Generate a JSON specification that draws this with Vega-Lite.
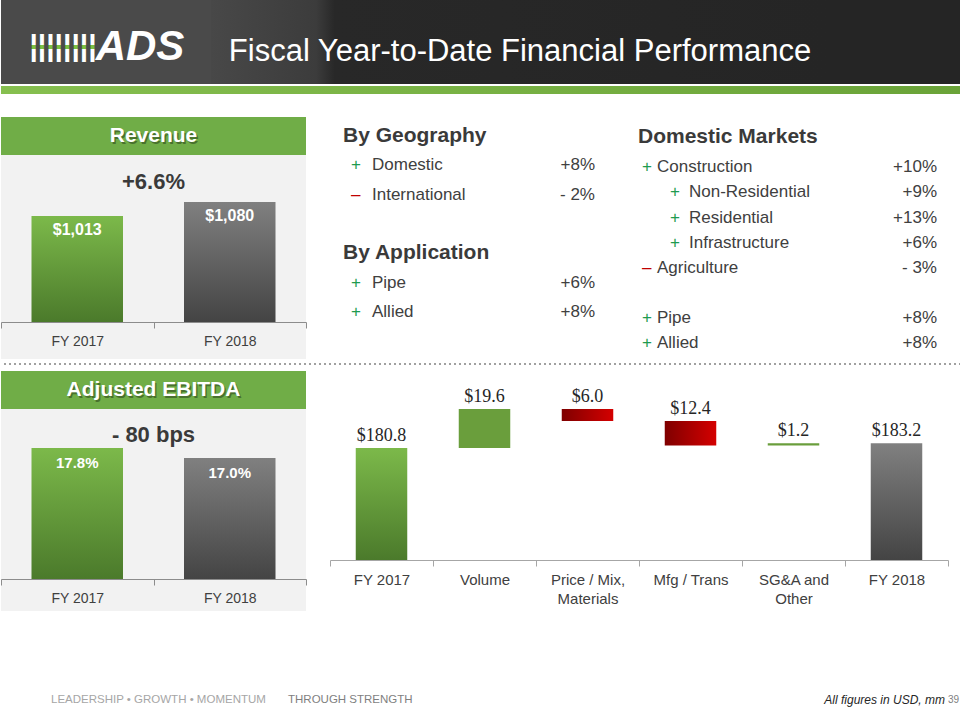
{
  "$schema": "https://vega.github.io/schema/vega-lite/v6.json",
  "padding": 0,
  "background": "white",
  "config": {"view": {"stroke": null}, "font": "Liberation Sans"},
  "spacing": 0,
  "vconcat": [
    {
      "spacing": 0,
      "hconcat": [
        {
          "width": 210, "height": 84,
          "view": {"fill": "#4a4a4a"},
          "data": {"values": [{"brand": "ADS", "stripes": "||||||||"}]},
          "layer": [
            {"mark": {"type": "text", "fontSize": 30, "fontWeight": "bold", "dx": -43, "dy": 5, "color": {"gradient": "linear", "x1": 0, "y1": 0, "x2": 0, "y2": 1, "stops": [{"offset": 0, "color": "#ffffff"}, {"offset": 0.48, "color": "#ffffff"}, {"offset": 0.48, "color": "#7cc142"}, {"offset": 0.62, "color": "#7cc142"}, {"offset": 0.62, "color": "#ffffff"}, {"offset": 1, "color": "#ffffff"}]}}, "encoding": {"text": {"field": "stripes"}}},
            {"mark": {"type": "text", "color": "white", "fontSize": 42, "fontWeight": "bold", "fontStyle": "italic", "dx": 34, "dy": 5}, "encoding": {"text": {"field": "brand"}}}
          ]
        },
        {
          "width": 618, "height": 84,
          "view": {"fill": {"gradient": "linear", "x1": 0, "y1": 0, "x2": 1, "y2": 0, "stops": [{"offset": 0, "color": "#484848"}, {"offset": 0.17, "color": "#3c3c3c"}, {"offset": 0.2, "color": "#282828"}, {"offset": 1, "color": "#252525"}]}},
          "data": {"values": [{"title": "Fiscal Year-to-Date Financial Performance"}]},
          "mark": {"type": "text", "color": "white", "fontSize": 31, "font": "Liberation Sans", "baseline": "alphabetic", "dy": 19},
          "encoding": {"text": {"field": "title"}}
        },
        {
          "width": 132, "height": 84,
          "view": {"fill": "#252525"},
          "data": {"values": [{"blank": ""}]},
          "mark": {"type": "text"},
          "encoding": {"text": {"field": "blank"}}
        }
      ]
    },
    {
      "spacing": 22,
      "vconcat": [
        {
          "width": 960, "height": 8,
          "view": {"fill": {"gradient": "linear", "x1": 0, "y1": 0, "x2": 1, "y2": 0, "stops": [{"offset": 0, "color": "#86bf4f"}, {"offset": 1, "color": "#6aa338"}]}},
          "data": {"values": [{"blank": ""}]},
          "mark": {"type": "text"},
          "encoding": {"text": {"field": "blank"}}
        },
        {
          "spacing": 82,
          "vconcat": [
            {
              "spacing": 4,
              "vconcat": [
                {
                  "spacing": 36,
                  "hconcat": [
                    {
                      "spacing": 0,
                      "vconcat": [
                        {
                          "width": 305, "height": 38,
                          "view": {"fill": "#70ad47"},
                          "data": {"values": [{"panel": "Revenue"}]},
                          "layer": [
                            {"mark": {"type": "text", "color": "#2f4a1c", "opacity": 0.6, "fontSize": 21, "fontWeight": "bold", "dx": 1.5, "dy": 1.5}, "encoding": {"text": {"field": "panel"}}},
                            {"mark": {"type": "text", "color": "white", "fontSize": 21, "fontWeight": "bold"}, "encoding": {"text": {"field": "panel"}}}
                          ]
                        },
                        {
                          "width": 305, "height": 46,
                          "view": {"fill": "#f2f2f2"},
                          "data": {"values": [{"change": "+6.6%"}]},
                          "mark": {"type": "text", "color": "#3a3a3a", "fontSize": 22, "fontWeight": "bold", "dy": 4},
                          "encoding": {"text": {"field": "change"}}
                        },
                        {
                          "width": 305, "height": 158,
                          "view": {"fill": "#f2f2f2"},
                          "data": {"values": [{"year": "FY 2017", "revenue": 1013}, {"year": "FY 2018", "revenue": 1080}]},
                          "encoding": {
                            "x": {"field": "year", "type": "nominal", "scale": {"paddingInner": 0, "paddingOuter": 0}, "axis": {"title": null, "labelAngle": 0, "offset": -37, "tickBand": "extent", "labelFontSize": 14, "labelColor": "#404040", "domainColor": "#8c8c8c", "tickColor": "#8c8c8c", "tickSize": 6, "labelPadding": 6}},
                            "y": {"field": "revenue", "type": "quantitative", "scale": {"domain": [328.8, 1084.8], "nice": false, "zero": false}, "axis": null}
                          },
                          "layer": [
                            {"transform": [{"filter": "datum.year === 'FY 2017'"}], "mark": {"type": "bar", "width": {"band": 0.6}, "color": {"gradient": "linear", "x1": 0, "y1": 0, "x2": 0, "y2": 1, "stops": [{"offset": 0, "color": "#7cb94a"}, {"offset": 1, "color": "#4b7a2b"}]}}, "encoding": {"y2": {"datum": 505.8}}},
                            {"transform": [{"filter": "datum.year === 'FY 2018'"}], "mark": {"type": "bar", "width": {"band": 0.6}, "color": {"gradient": "linear", "x1": 0, "y1": 0, "x2": 0, "y2": 1, "stops": [{"offset": 0, "color": "#808080"}, {"offset": 1, "color": "#444444"}]}}, "encoding": {"y2": {"datum": 505.8}}},
                            {"mark": {"type": "text", "baseline": "top", "dy": 6, "color": "white", "fontWeight": "bold", "fontSize": 16}, "encoding": {"text": {"field": "revenue", "format": "$,.0f"}}}
                          ]
                        }
                      ]
                    },
                    {
                      "spacing": 41,
                      "hconcat": [
                        {
                          "width": 254, "height": 242,
                          "data": {"values": [
                            {"row": 0, "kind": "heading", "item": "By Geography"},
                            {"row": 1, "kind": "item", "sign": "+", "item": "Domestic", "change": "+8%"},
                            {"row": 2, "kind": "item", "sign": "–", "item": "International", "change": "- 2%"},
                            {"row": 4, "kind": "heading", "item": "By Application"},
                            {"row": 5, "kind": "item", "sign": "+", "item": "Pipe", "change": "+6%"},
                            {"row": 6, "kind": "item", "sign": "+", "item": "Allied", "change": "+8%"}
                          ]},
                          "encoding": {
                            "y": {"field": "row", "type": "quantitative", "scale": {"domain": [-0.65, 7.6], "reverse": true, "nice": false, "zero": false}, "axis": null}
                          },
                          "layer": [
                            {"transform": [{"filter": "datum.kind === 'heading'"}], "mark": {"type": "text", "align": "left", "baseline": "middle", "fontSize": 21, "fontWeight": "bold", "color": "#3a3a3a"}, "encoding": {"x": {"datum": 0, "type": "quantitative", "scale": {"domain": [0, 1], "nice": false, "zero": false}, "axis": null}, "text": {"field": "item"}}},
                            {"transform": [{"filter": "datum.kind === 'item'"}], "mark": {"type": "text", "align": "left", "baseline": "middle", "fontSize": 17, "dx": 8}, "encoding": {"x": {"datum": 0, "type": "quantitative"}, "text": {"field": "sign"}, "color": {"field": "sign", "type": "nominal", "scale": {"domain": ["+", "–"], "range": ["#1e9b4f", "#c00000"]}, "legend": null}}},
                            {"transform": [{"filter": "datum.kind === 'item'"}], "mark": {"type": "text", "align": "left", "baseline": "middle", "fontSize": 17, "color": "#404040", "dx": 29}, "encoding": {"x": {"datum": 0, "type": "quantitative"}, "text": {"field": "item"}}},
                            {"transform": [{"filter": "datum.kind === 'item'"}], "mark": {"type": "text", "align": "right", "baseline": "middle", "fontSize": 17, "color": "#404040", "dx": -2}, "encoding": {"x": {"datum": 1, "type": "quantitative"}, "text": {"field": "change"}}}
                          ]
                        },
                        {
                          "width": 299, "height": 242,
                          "data": {"values": [
                            {"row": 0, "kind": "heading", "item": "Domestic Markets"},
                            {"row": 1, "kind": "item", "level": 1, "sign": "+", "item": "Construction", "change": "+10%"},
                            {"row": 2, "kind": "item", "level": 2, "sign": "+", "item": "Non-Residential", "change": "+9%"},
                            {"row": 3, "kind": "item", "level": 2, "sign": "+", "item": "Residential", "change": "+13%"},
                            {"row": 4, "kind": "item", "level": 2, "sign": "+", "item": "Infrastructure", "change": "+6%"},
                            {"row": 5, "kind": "item", "level": 1, "sign": "–", "item": "Agriculture", "change": "- 3%"},
                            {"row": 7, "kind": "item", "level": 1, "sign": "+", "item": "Pipe", "change": "+8%"},
                            {"row": 8, "kind": "item", "level": 1, "sign": "+", "item": "Allied", "change": "+8%"}
                          ]},
                          "encoding": {
                            "y": {"field": "row", "type": "quantitative", "scale": {"domain": [-1.0, 8.63], "reverse": true, "nice": false, "zero": false}, "axis": null}
                          },
                          "layer": [
                            {"transform": [{"filter": "datum.kind === 'heading'"}], "mark": {"type": "text", "align": "left", "baseline": "middle", "fontSize": 21, "fontWeight": "bold", "color": "#3a3a3a", "dy": -5}, "encoding": {"x": {"datum": 0, "type": "quantitative", "scale": {"domain": [0, 1], "nice": false, "zero": false}, "axis": null}, "text": {"field": "item"}}},
                            {"transform": [{"filter": "datum.level === 1"}], "mark": {"type": "text", "align": "left", "baseline": "middle", "fontSize": 17, "dx": 4}, "encoding": {"x": {"datum": 0, "type": "quantitative"}, "text": {"field": "sign"}, "color": {"field": "sign", "type": "nominal", "scale": {"domain": ["+", "–"], "range": ["#1e9b4f", "#c00000"]}, "legend": null}}},
                            {"transform": [{"filter": "datum.level === 1"}], "mark": {"type": "text", "align": "left", "baseline": "middle", "fontSize": 17, "color": "#404040", "dx": 19}, "encoding": {"x": {"datum": 0, "type": "quantitative"}, "text": {"field": "item"}}},
                            {"transform": [{"filter": "datum.level === 2"}], "mark": {"type": "text", "align": "left", "baseline": "middle", "fontSize": 17, "dx": 32}, "encoding": {"x": {"datum": 0, "type": "quantitative"}, "text": {"field": "sign"}, "color": {"field": "sign", "type": "nominal", "scale": {"domain": ["+", "–"], "range": ["#1e9b4f", "#c00000"]}, "legend": null}}},
                            {"transform": [{"filter": "datum.level === 2"}], "mark": {"type": "text", "align": "left", "baseline": "middle", "fontSize": 17, "color": "#404040", "dx": 51}, "encoding": {"x": {"datum": 0, "type": "quantitative"}, "text": {"field": "item"}}},
                            {"transform": [{"filter": "datum.kind === 'item'"}], "mark": {"type": "text", "align": "right", "baseline": "middle", "fontSize": 17, "color": "#404040"}, "encoding": {"x": {"datum": 1, "type": "quantitative"}, "text": {"field": "change"}}}
                          ]
                        }
                      ]
                    }
                  ]
                },
                {
                  "spacing": 6,
                  "vconcat": [
                    {
                      "width": 960, "height": 2,
                      "data": {"values": [{"line": "separator"}]},
                      "mark": {"type": "rule", "color": "#a0a0a0", "strokeDash": [2, 3], "strokeWidth": 2},
                      "encoding": {"y": {"datum": 0, "type": "quantitative", "scale": {"domain": [-1, 1]}, "axis": null}}
                    },
                    {
                      "spacing": 22,
                      "hconcat": [
                        {
                          "spacing": 0,
                          "vconcat": [
                            {
                              "width": 305, "height": 38,
                              "view": {"fill": "#70ad47"},
                              "data": {"values": [{"panel": "Adjusted  EBITDA"}]},
                              "layer": [
                                {"mark": {"type": "text", "color": "#2f4a1c", "opacity": 0.6, "fontSize": 21, "fontWeight": "bold", "dx": 1.5, "dy": 1.5}, "encoding": {"text": {"field": "panel"}}},
                                {"mark": {"type": "text", "color": "white", "fontSize": 21, "fontWeight": "bold"}, "encoding": {"text": {"field": "panel"}}}
                              ]
                            },
                            {
                              "width": 305, "height": 38,
                              "view": {"fill": "#f2f2f2"},
                              "data": {"values": [{"change": "- 80 bps"}]},
                              "mark": {"type": "text", "color": "#3a3a3a", "fontSize": 22, "fontWeight": "bold", "dy": 7},
                              "encoding": {"text": {"field": "change"}}
                            },
                            {
                              "width": 305, "height": 164,
                              "view": {"fill": "#f2f2f2"},
                              "data": {"values": [{"year": "FY 2017", "margin": 0.178}, {"year": "FY 2018", "margin": 0.170}]},
                              "encoding": {
                                "x": {"field": "year", "type": "nominal", "scale": {"paddingInner": 0, "paddingOuter": 0}, "axis": {"title": null, "labelAngle": 0, "offset": -32, "tickBand": "extent", "labelFontSize": 14, "labelColor": "#404040", "domainColor": "#8c8c8c", "tickColor": "#8c8c8c", "tickSize": 6, "labelPadding": 6}},
                                "y": {"field": "margin", "type": "quantitative", "scale": {"domain": [0.0476, 0.1788], "nice": false, "zero": false}, "axis": null}
                              },
                              "layer": [
                                {"transform": [{"filter": "datum.year === 'FY 2017'"}], "mark": {"type": "bar", "width": {"band": 0.6}, "color": {"gradient": "linear", "x1": 0, "y1": 0, "x2": 0, "y2": 1, "stops": [{"offset": 0, "color": "#7cb94a"}, {"offset": 1, "color": "#4b7a2b"}]}}, "encoding": {"y2": {"datum": 0.0732}}},
                                {"transform": [{"filter": "datum.year === 'FY 2018'"}], "mark": {"type": "bar", "width": {"band": 0.6}, "color": {"gradient": "linear", "x1": 0, "y1": 0, "x2": 0, "y2": 1, "stops": [{"offset": 0, "color": "#808080"}, {"offset": 1, "color": "#444444"}]}}, "encoding": {"y2": {"datum": 0.0732}}},
                                {"mark": {"type": "text", "baseline": "top", "dy": 8, "color": "white", "fontWeight": "bold", "fontSize": 15}, "encoding": {"text": {"field": "margin", "format": ".1%"}}}
                              ]
                            }
                          ]
                        },
                        {
                          "width": 618, "height": 189,
                          "data": {"values": [
                            {"step": "FY 2017", "kind": "start", "high": 180.8, "amount": 180.8},
                            {"step": "Volume", "kind": "up", "low": 180.8, "high": 200.4, "amount": 19.6},
                            {"step": "Price / Mix,\nMaterials", "kind": "down", "low": 194.4, "high": 200.4, "amount": 6.0},
                            {"step": "Mfg / Trans", "kind": "down", "low": 182.0, "high": 194.4, "amount": 12.4},
                            {"step": "SG&A and\nOther", "kind": "up", "low": 182.0, "high": 183.2, "amount": 1.2},
                            {"step": "FY 2018", "kind": "end", "high": 183.2, "amount": 183.2}
                          ]},
                          "encoding": {
                            "x": {"field": "step", "type": "nominal", "sort": null, "scale": {"domain": ["FY 2017", "Volume", "Price / Mix,\nMaterials", "Mfg / Trans", "SG&A and\nOther", "FY 2018"], "paddingInner": 0, "paddingOuter": 0}, "axis": {"title": null, "labelAngle": 0, "labelFontSize": 15, "labelColor": "#404040", "labelExpr": "split(datum.label, '\\n')", "labelLineHeight": 19, "labelPadding": 6, "tickBand": "extent", "tickSize": 6, "domainColor": "#a6a6a6", "tickColor": "#a6a6a6"}},
                            "y": {"field": "high", "type": "quantitative", "scale": {"domain": [124.5, 219.5], "nice": false, "zero": false}, "axis": null}
                          },
                          "layer": [
                            {"transform": [{"filter": "datum.kind === 'start'"}], "mark": {"type": "bar", "width": {"band": 0.5}, "color": {"gradient": "linear", "x1": 0, "y1": 0, "x2": 0, "y2": 1, "stops": [{"offset": 0, "color": "#7cb94a"}, {"offset": 1, "color": "#4b7a2b"}]}}, "encoding": {"y2": {"datum": 124.5}}},
                            {"transform": [{"filter": "datum.kind === 'end'"}], "mark": {"type": "bar", "width": {"band": 0.5}, "color": {"gradient": "linear", "x1": 0, "y1": 0, "x2": 0, "y2": 1, "stops": [{"offset": 0, "color": "#808080"}, {"offset": 1, "color": "#444444"}]}}, "encoding": {"y2": {"datum": 124.5}}},
                            {"transform": [{"filter": "datum.kind === 'up'"}], "mark": {"type": "bar", "width": {"band": 0.5}, "color": "#6a9e3c"}, "encoding": {"y2": {"field": "low"}}},
                            {"transform": [{"filter": "datum.kind === 'down'"}], "mark": {"type": "bar", "width": {"band": 0.5}, "color": {"gradient": "linear", "x1": 0, "y1": 0, "x2": 1, "y2": 0, "stops": [{"offset": 0, "color": "#7f0000"}, {"offset": 1, "color": "#d40000"}]}}, "encoding": {"y2": {"field": "low"}}},
                            {"mark": {"type": "text", "baseline": "bottom", "dy": -3, "font": "Liberation Serif", "fontSize": 18, "color": "#262626"}, "encoding": {"text": {"field": "amount", "format": "$.1f"}}}
                          ]
                        }
                      ]
                    }
                  ]
                }
              ]
            },
            {
              "width": 960, "height": 14,
              "data": {"values": [
                {"part": "tagline", "text": "LEADERSHIP • GROWTH • MOMENTUM"},
                {"part": "motto", "text": "THROUGH STRENGTH"},
                {"part": "note", "text": "All figures in USD, mm"},
                {"part": "page", "text": "39"}
              ]},
              "encoding": {"y": {"datum": 0, "type": "quantitative", "scale": {"domain": [-1, 1]}, "axis": null}, "text": {"field": "text"}},
              "layer": [
                {"transform": [{"filter": "datum.part === 'tagline'"}], "mark": {"type": "text", "align": "left", "fontSize": 11.5, "color": "#a6a6a6", "dx": 50}, "encoding": {"x": {"datum": 0, "type": "quantitative", "scale": {"domain": [0, 1], "nice": false, "zero": false}, "axis": null}}},
                {"transform": [{"filter": "datum.part === 'motto'"}], "mark": {"type": "text", "align": "left", "fontSize": 11.5, "color": "#7f7f7f", "dx": 287}, "encoding": {"x": {"datum": 0, "type": "quantitative"}}},
                {"transform": [{"filter": "datum.part === 'note'"}], "mark": {"type": "text", "align": "right", "fontSize": 12, "fontStyle": "italic", "color": "#262626", "dx": -16}, "encoding": {"x": {"datum": 1, "type": "quantitative"}}},
                {"transform": [{"filter": "datum.part === 'page'"}], "mark": {"type": "text", "align": "right", "fontSize": 10, "color": "#7f7f7f", "dx": -2}, "encoding": {"x": {"datum": 1, "type": "quantitative"}}}
              ]
            }
          ]
        }
      ]
    }
  ]
}
